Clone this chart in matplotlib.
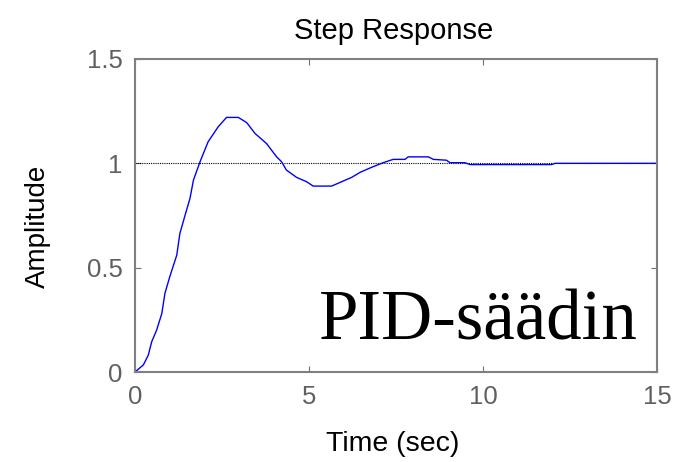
import matplotlib
matplotlib.use("Agg")
import matplotlib.pyplot as plt

t = [0.0, 0.24, 0.38, 0.48, 0.62, 0.77, 0.86, 1.0, 1.2, 1.29, 1.44, 1.58, 1.68, 1.87,
     2.1, 2.39, 2.63, 2.97, 3.21, 3.45, 3.78, 4.07, 4.21, 4.35, 4.64, 4.93, 5.12, 5.65,
     5.94, 6.23, 6.47, 6.80, 7.13, 7.42, 7.76, 7.85, 8.43, 8.57, 8.95, 9.05, 9.48, 9.63,
     11.97, 12.07, 15.0]
amp = [0.0, 0.034, 0.08, 0.145, 0.20, 0.28, 0.377, 0.457, 0.56, 0.664, 0.752, 0.832, 0.92, 1.008,
       1.103, 1.175, 1.22, 1.22, 1.195, 1.143, 1.095, 1.031, 1.008, 0.968, 0.933, 0.912, 0.891, 0.891,
       0.912, 0.933, 0.957, 0.981, 1.003, 1.019, 1.019, 1.031, 1.031, 1.019, 1.015, 1.003, 1.003, 0.994,
       0.994, 1.0, 1.0]
ref_t = [0, 15]
ref_amp = [1, 1]
xticks = [0, 5, 10, 15]
yticks = [0, 0.5, 1, 1.5]
ytick_labels = ["0", "0.5", "1", "1.5"]

plt.rcParams['font.family'] = ['Liberation Sans', 'DejaVu Sans']
fig = plt.figure(figsize=(6.82, 4.62), dpi=100)
ax = fig.add_axes([135/682, 1-372/462, 522/682, 313/462])
ax.plot(ref_t, ref_amp, color='black', linestyle=(0, (1, 1)), linewidth=0.8)
ax.plot(t, amp, color='#0000ff', linewidth=1.0)
ax.set_xlim(0, 15)
ax.set_ylim(0, 1.5)
ax.set_xticks(xticks)
ax.set_yticks(yticks)
ax.set_yticklabels(ytick_labels)
ax.tick_params(direction='in', length=4, width=0.8, colors='#707070', labelcolor='#606060',
               labelsize=18.5, top=True, right=True, pad=9)
for s in ax.spines.values():
    s.set_color('#808080')
    s.set_linewidth(1.5)
fig.text(394/682, 1-39/462, "Step Response", fontsize=21, ha='center', va='baseline')
ax.set_xlabel("Time (sec)", fontsize=20.5, va='center')
ax.xaxis.set_label_coords((392.5-135)/522, (372-444)/313)
ax.set_ylabel("Amplitude", fontsize=20, va='center')
ax.yaxis.set_label_coords((38-135)/522, (372-226)/313)
ax.text((319-135)/522, (372-339)/313, "PID-säädin", transform=ax.transAxes, fontsize=51,
        family=['Liberation Serif', 'DejaVu Serif'], va='baseline', ha='left')
fig.savefig("out.png", dpi=100)
